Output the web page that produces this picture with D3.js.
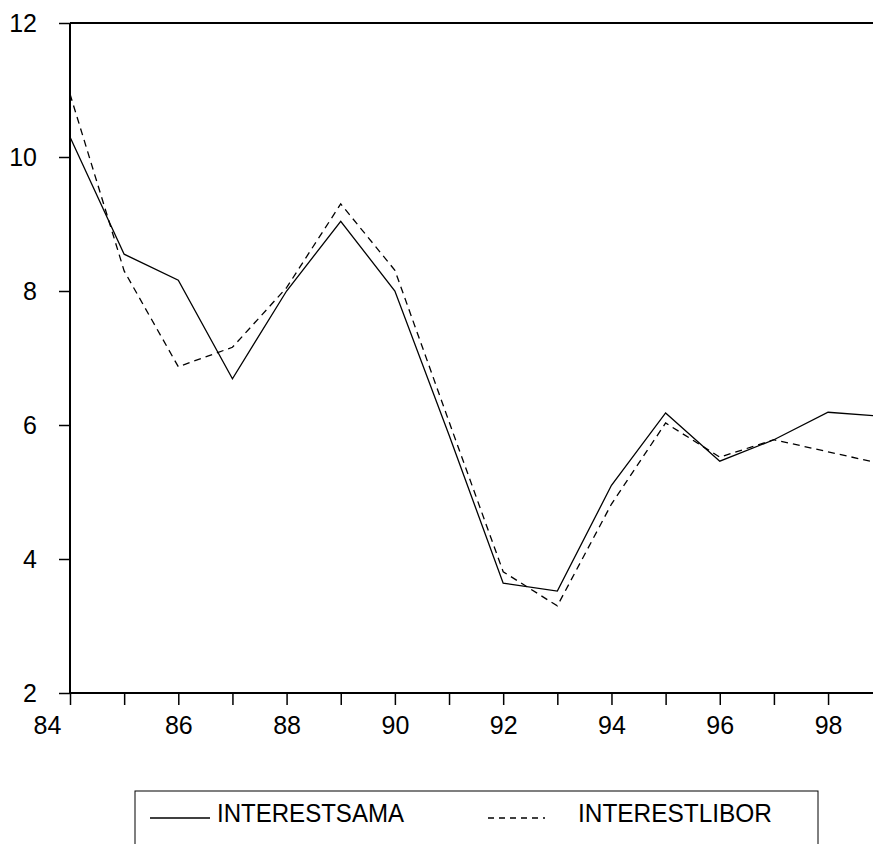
<!DOCTYPE html>
<html>
<head>
<meta charset="utf-8">
<script src="https://cdn.jsdelivr.net/npm/d3@7"></script>
<style>
  body { margin: 0; background: #fff; }
  svg { display: block; font-family: Arial, "Liberation Sans", sans-serif; }
</style>
</head>
<body>
<script>
// annual observations, 1984 .. 1999 (last point runs off the right edge)
const years = [84, 85, 86, 87, 88, 89, 90, 91, 92, 93, 94, 95, 96, 97, 98, 99];
const interestSama = [10.30, 8.55, 8.16, 6.69, 8.00, 9.04, 8.00, 5.85, 3.64, 3.52, 5.10, 6.18, 5.46, 5.78, 6.19, 6.13];
const interestLibor = [10.94, 8.30, 6.87, 7.16, 8.05, 9.30, 8.31, 6.05, 3.81, 3.30, 4.82, 6.03, 5.52, 5.78, 5.60, 5.42];
const yTicks = [2, 4, 6, 8, 10, 12];
const xLabels = [84, 86, 88, 90, 92, 94, 96, 98];
const seriesNames = ["INTERESTSAMA", "INTERESTLIBOR"];

const w = 873;
const h = 844;
const padLeft = 70, padTop = 23, axisY = 693;

const x = d3.scaleLinear().domain([84, 98.83]).range([padLeft, w]);
const y = d3.scaleLinear().domain([2, 12]).range([axisY, padTop]);

const svg = d3.select("body").append("svg")
  .attr("width", w)
  .attr("height", h);

svg.append("defs").append("clipPath").attr("id", "plot")
  .append("rect")
  .attr("x", padLeft).attr("y", padTop - 2)
  .attr("width", w - padLeft).attr("height", axisY - padTop + 4);

// y axis
const yAxis = d3.axisLeft(y).tickValues(yTicks).tickSize(11).tickPadding(22);
svg.append("g")
  .attr("transform", `translate(${padLeft},0)`)
  .call(yAxis)
  .call(g => g.select(".domain").attr("stroke-width", 2).attr("d", `M0,${axisY}V${padTop}`))
  .call(g => g.selectAll(".tick line").attr("stroke-width", 1.5))
  .call(g => g.selectAll(".tick text").attr("font-size", 25).attr("fill", "#000"));

// x axis: a tick every year, label every other one
const xAxis = d3.axisBottom(x)
  .tickValues(years.filter(d => d <= 98))
  .tickSize(12)
  .tickPadding(11)
  .tickFormat(d => xLabels.includes(d) ? d : "");
svg.append("g")
  .attr("transform", `translate(0,${axisY})`)
  .call(xAxis)
  .call(g => g.select(".domain").attr("stroke-width", 2).attr("d", `M${padLeft},0H${w}`))
  .call(g => g.selectAll(".tick line").attr("stroke-width", 1.5))
  .call(g => g.selectAll(".tick text").attr("font-size", 25).attr("fill", "#000"))
  // first label sits left of its tick, like the original
  .call(g => g.selectAll(".tick text").filter(d => d === 84).attr("dx", -23));

// top frame line
svg.append("line")
  .attr("x1", padLeft).attr("x2", w)
  .attr("y1", padTop).attr("y2", padTop)
  .attr("stroke", "#000")
  .attr("stroke-width", 2);

const line = d3.line()
  .x((d, i) => x(years[i]))
  .y(d => y(d));

const plot = svg.append("g").attr("clip-path", "url(#plot)");

plot.append("path")
  .datum(interestSama)
  .attr("d", line)
  .attr("fill", "none")
  .attr("stroke", "#000")
  .attr("stroke-width", 1.3);

plot.append("path")
  .datum(interestLibor)
  .attr("d", line)
  .attr("fill", "none")
  .attr("stroke", "#000")
  .attr("stroke-width", 1.3)
  .attr("stroke-dasharray", "7,5");

// legend
const legend = svg.append("g");
legend.append("rect")
  .attr("x", 135).attr("y", 791)
  .attr("width", 683).attr("height", 70)
  .attr("fill", "none")
  .attr("stroke", "#000")
  .attr("stroke-width", 1);

const legendItems = [
  { name: seriesNames[0], x1: 150, x2: 210, tx: 217, len: 187, dash: null },
  { name: seriesNames[1], x1: 488, x2: 545, tx: 578, len: 194, dash: "6,5" }
];
legendItems.forEach(d => {
  legend.append("line")
    .attr("x1", d.x1).attr("x2", d.x2)
    .attr("y1", 818).attr("y2", 818)
    .attr("stroke", "#000")
    .attr("stroke-width", 1.3)
    .attr("stroke-dasharray", d.dash);
  legend.append("text")
    .attr("x", d.tx).attr("y", 822)
    .attr("font-size", 26)
    .attr("textLength", d.len)
    .attr("lengthAdjust", "spacingAndGlyphs")
    .text(d.name);
});
</script>
</body>
</html>
